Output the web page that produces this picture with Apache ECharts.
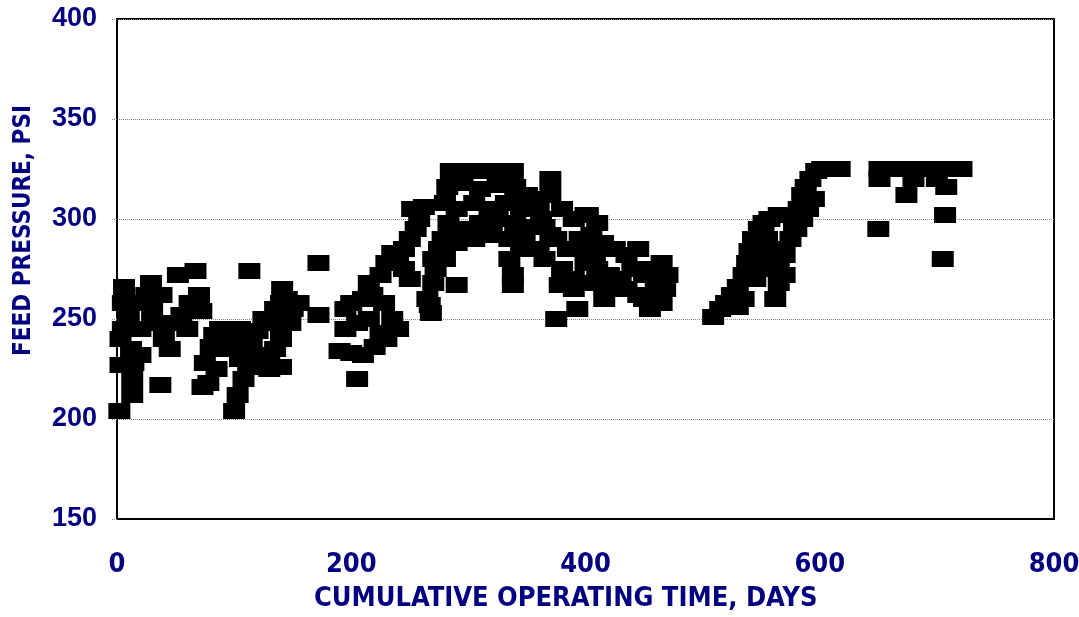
<!DOCTYPE html>
<html>
<head>
<meta charset="utf-8">
<script src="https://cdn.jsdelivr.net/npm/echarts@6/dist/echarts.min.js"></script>
<style>
html,body{margin:0;padding:0;background:#fff;}
#chart{width:1079px;height:617px;}
</style>
</head>
<body>
<div id="chart"></div>
<script>
// Tick labels
const xTicks = [0, 200, 400, 600, 800];
const yTicks = [150, 200, 250, 300, 350, 400];

// Observations: cumulative operating time (days) and feed pressure (psi)
const days = [
  // cluster A (0-75 days)
  2, 6, 29, 52, 67, 37, 5, 20, 30, 5, 20, 30, 3, 12, 20, 3, 14, 13, 13, 40, 48, 55, 62, 70, 45, 70, 72, 10, 25, 38, 60,
  // cluster B (75-175 days)
  75, 78, 80, 83, 73, 88, 95, 105, 100, 90, 85, 100, 103, 108, 112, 110, 115, 120, 125, 130, 135, 140, 141, 145, 150, 148, 140, 135, 130, 125, 128, 130, 140, 113, 172, 172, 155, 118, 105,
  // cluster D (185-280 days)
  205, 190, 200, 210, 220, 195, 205, 215, 225, 230, 195, 200, 210, 218, 228, 235, 240, 215, 225, 230, 235, 240, 245, 250, 245, 250, 255, 258, 262, 252, 265, 268, 270, 272, 275, 278, 270, 267,
  // cluster E (280-370 days)
  285, 298, 312, 325, 338, 282, 295, 310, 325, 340, 350, 280, 290, 305, 318, 332, 345, 355, 362, 283, 295, 310, 325, 340, 352, 290, 305, 320, 335, 348, 290, 280, 275, 335, 338, 338, 345, 360, 365, 370,
  // cluster F (370-480 days)
  370, 375, 393, 416, 370, 380, 390, 400, 410, 360, 365, 375, 385, 395, 405, 415, 425, 435, 445, 380, 390, 400, 410, 420, 430, 440, 450, 378, 390, 405, 418, 435, 445, 455, 450, 460, 465, 460, 465, 470, 468, 455, 400, 408, 402,
  // cluster G (505-620 days)
  509, 515, 520, 525, 530, 535, 538, 540, 543, 548, 552, 557, 565, 530, 535, 545, 550, 555, 560, 565, 570, 575, 578, 582, 585, 588, 592, 597, 602, 612, 617, 590, 595, 562, 565, 570, 545, 552, 585, 580, 560, 555,
  // cluster I (650-725 days)
  651, 660, 670, 680, 690, 700, 710, 721, 651, 674, 708, 707, 650, 705, 680, 700
];
const pressure = [
  // cluster A
  204, 266, 268, 272, 274, 217, 258, 258, 255, 245, 245, 248, 240, 235, 232, 227, 228, 220, 212, 240, 248, 252, 258, 260, 235, 262, 254, 250, 262, 262, 245,
  // cluster B
  228, 218, 236, 242, 216, 245, 244, 245, 238, 235, 225, 204, 212, 220, 228, 236, 240, 244, 250, 248, 255, 258, 265, 260, 255, 248, 240, 235, 230, 226, 232, 225, 226, 274, 278, 252, 258, 232, 230,
  // cluster D
  220, 234, 233, 232, 236, 245, 248, 250, 243, 240, 255, 258, 260, 262, 258, 250, 245, 268, 272, 278, 283, 280, 275, 270, 285, 290, 295, 300, 306, 305, 260, 253, 268, 275, 283, 290, 280, 257,
  // cluster E
  324, 324, 324, 324, 324, 316, 318, 315, 317, 316, 312, 308, 305, 308, 305, 308, 305, 310, 300, 298, 295, 298, 300, 298, 296, 288, 290, 292, 290, 290, 267, 280, 285, 280, 272, 267, 285, 285, 280, 292,
  // cluster F
  320, 250, 255, 260, 312, 305, 300, 302, 298, 305, 296, 290, 285, 290, 292, 288, 285, 282, 285, 275, 270, 278, 275, 272, 270, 275, 272, 267, 265, 268, 265, 265, 262, 255, 260, 262, 258, 270, 278, 272, 265, 275, 285, 280, 302,
  // cluster G
  251, 255, 258, 262, 266, 272, 278, 284, 290, 295, 298, 300, 302, 256, 260, 280, 285, 290, 285, 278, 282, 290, 298, 305, 312, 316, 320, 324, 325, 325, 325, 305, 310, 260, 268, 272, 270, 278, 300, 295, 280, 275,
  // cluster I
  325, 325, 325, 325, 325, 325, 325, 325, 320, 312, 316, 302, 295, 280, 320, 320
];

const points = days.map((d, i) => [d, pressure[i]]);

const navy = '#000080';
const narrow = "'Liberation Sans Narrow', 'DejaVu Sans Condensed', 'Liberation Sans', Arial, sans-serif";
const wide = "'Liberation Sans', Arial, sans-serif";

const chart = echarts.init(document.getElementById('chart'), null, {renderer: 'canvas'});
chart.setOption({
  animation: false,
  backgroundColor: '#fff',
  grid: {left: 117, right: 25, top: 19, bottom: 98, containLabel: false, outerBoundsMode: 'none',
         show: true, borderColor: '#000', borderWidth: 2, backgroundColor: 'transparent'},
  xAxis: {
    type: 'value', min: xTicks[0], max: xTicks[xTicks.length - 1], interval: 200,
    axisLine: {show: true, onZero: false, lineStyle: {color: '#000', width: 2}},
    axisTick: {show: false},
    splitLine: {show: false},
    axisLabel: {color: navy, fontFamily: narrow, fontWeight: 'bold', fontSize: 27, margin: 32}
  },
  yAxis: {
    type: 'value', min: yTicks[0], max: yTicks[yTicks.length - 1], interval: 50,
    axisLine: {show: true, lineStyle: {color: '#000', width: 2}},
    axisTick: {show: true, length: 6, lineStyle: {color: '#888', type: 'dotted'}},
    splitLine: {show: true, lineStyle: {color: '#888', type: 'dotted', width: 1}},
    axisLabel: {color: navy, fontFamily: wide, fontWeight: 'bold', fontSize: 27, margin: 20}
  },
  graphic: [
    {type: 'text', left: 314, top: 585, style: {text: 'CUMULATIVE OPERATING TIME, DAYS', fill: navy, font: "bold 27px " + narrow}},
    {type: 'text', x: 12, y: 356, rotation: Math.PI / 2, style: {text: 'FEED PRESSURE, PSI', fill: navy, font: "bold 24px " + narrow}}
  ],
  series: [{
    type: 'scatter',
    data: points,
    symbol: 'rect',
    symbolSize: [22, 16],
    itemStyle: {color: '#000', opacity: 1},
    clip: false
  }]
});
</script>
</body>
</html>
